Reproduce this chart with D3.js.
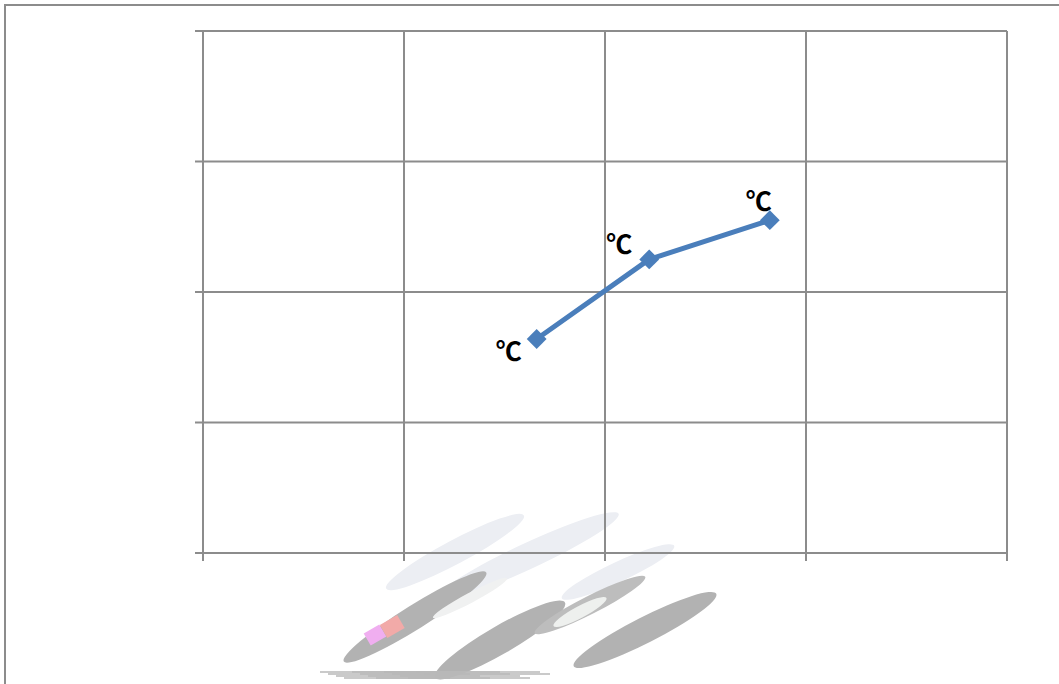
<!DOCTYPE html>
<html>
<head>
<meta charset="utf-8">
<script src="https://cdn.jsdelivr.net/npm/d3@7"></script>
<style>
  body { margin: 0; background: #fff; }
  svg { display: block; }
</style>
</head>
<body>
<div id="chart-area"></div>
<script>
// data (axis has no visible labels, so units are grid steps)
const xValues = [1.66, 2.22, 2.82]
const yValues = [1.64, 2.25, 2.55]
const pointLabels = ["℃", "℃", "℃"]
const xTicks = [0, 1, 2, 3, 4]
const yTicks = [0, 1, 2, 3, 4]

// where excel dropped the data labels, relative to the point
const labelOffsets = [[-28, 11], [-30, -17], [-11, -21]]

const W = 1059, H = 684
const MARGIN = { LEFT: 203, RIGHT: 52, TOP: 31, BOTTOM: 131 }
const WIDTH = W - MARGIN.LEFT - MARGIN.RIGHT
const HEIGHT = H - MARGIN.TOP - MARGIN.BOTTOM

const svg = d3.select("#chart-area").append("svg")
    .attr("width", W)
    .attr("height", H)

// chart frame, runs off the right and bottom of the window
svg.append("rect")
    .attr("x", 5).attr("y", 5)
    .attr("width", W + 20).attr("height", H + 20)
    .attr("fill", "none")
    .attr("stroke", "#8c8c8c")
    .attr("stroke-width", 2)

// faded picture under the plot (blurry pencils)
const deco = svg.append("g")
const blobs = [
    [455, 552, 78, 12, -28, "#eceef3"],
    [528, 556, 100, 13, -25, "#eceef3"],
    [618, 572, 62, 10, -25, "#eceef3"],
    [415, 617, 84, 12, -32, "#b2b2b2"],
    [500, 640, 75, 14, -30, "#b2b2b2"],
    [590, 605, 62, 9, -27, "#bdbdbd"],
    [645, 630, 80, 13, -27, "#b2b2b2"],
    [470, 598, 42, 5, -28, "#f0f1f1"],
    [580, 612, 30, 6, -28, "#eef0ee"]
]
blobs.forEach(b => {
    deco.append("ellipse")
        .attr("cx", b[0]).attr("cy", b[1])
        .attr("rx", b[2]).attr("ry", b[3])
        .attr("transform", `rotate(${b[4]},${b[0]},${b[1]})`)
        .attr("fill", b[5])
})
deco.append("rect").attr("x", 366).attr("y", 628).attr("width", 18).attr("height", 14)
    .attr("transform", "rotate(-30,375,635)").attr("fill", "#f0aef0")
deco.append("rect").attr("x", 382).attr("y", 619).attr("width", 20).attr("height", 15)
    .attr("transform", "rotate(-30,392,626)").attr("fill", "#f2aaa8")
for (let i = 0; i < 14; i++) {
    deco.append("line")
        .attr("x1", 320 + i * 8).attr("x2", 420 + i * 10)
        .attr("y1", 672 + (i % 4) * 2).attr("y2", 672 + (i % 4) * 2)
        .attr("stroke", "#b8b8b8").attr("stroke-width", 1.5)
}

const g = svg.append("g")
    .attr("transform", `translate(${MARGIN.LEFT},${MARGIN.TOP})`)

const x = d3.scaleLinear().domain([0, 4]).range([0, WIDTH])
const y = d3.scaleLinear().domain([0, 4]).range([HEIGHT, 0])

// grid
g.selectAll(".vgrid").data(xTicks).enter().append("line")
    .attr("x1", d => x(d)).attr("x2", d => x(d))
    .attr("y1", 0).attr("y2", HEIGHT + 8)
    .attr("stroke", "#8c8c8c").attr("stroke-width", 2)
g.selectAll(".hgrid").data(yTicks).enter().append("line")
    .attr("x1", -8).attr("x2", WIDTH)
    .attr("y1", d => y(d)).attr("y2", d => y(d))
    .attr("stroke", "#8c8c8c").attr("stroke-width", 2)

const pts = xValues.map((v, i) => ({ x: v, y: yValues[i], label: pointLabels[i], off: labelOffsets[i] }))

g.append("path")
    .datum(pts)
    .attr("fill", "none")
    .attr("stroke", "#4a7ebb")
    .attr("stroke-width", 5)
    .attr("stroke-linejoin", "round")
    .attr("d", d3.line().x(d => x(d.x)).y(d => y(d.y)))

g.selectAll(".marker").data(pts).enter().append("path")
    .attr("transform", d => `translate(${x(d.x)},${y(d.y)}) rotate(45)`)
    .attr("d", d3.symbol().type(d3.symbolSquare).size(196))
    .attr("fill", "#4a7ebb")

g.selectAll(".lbl").data(pts).enter().append("text")
    .attr("x", d => x(d.x) + d.off[0])
    .attr("y", d => y(d.y) + d.off[1])
    .attr("text-anchor", "middle")
    .attr("dominant-baseline", "central")
    .attr("font-family", "'Noto Sans CJK KR', 'Noto Sans', sans-serif")
    .attr("font-weight", "bold")
    .attr("font-size", 26)
    .attr("fill", "#000")
    .text(d => d.label)
</script>
</body>
</html>
